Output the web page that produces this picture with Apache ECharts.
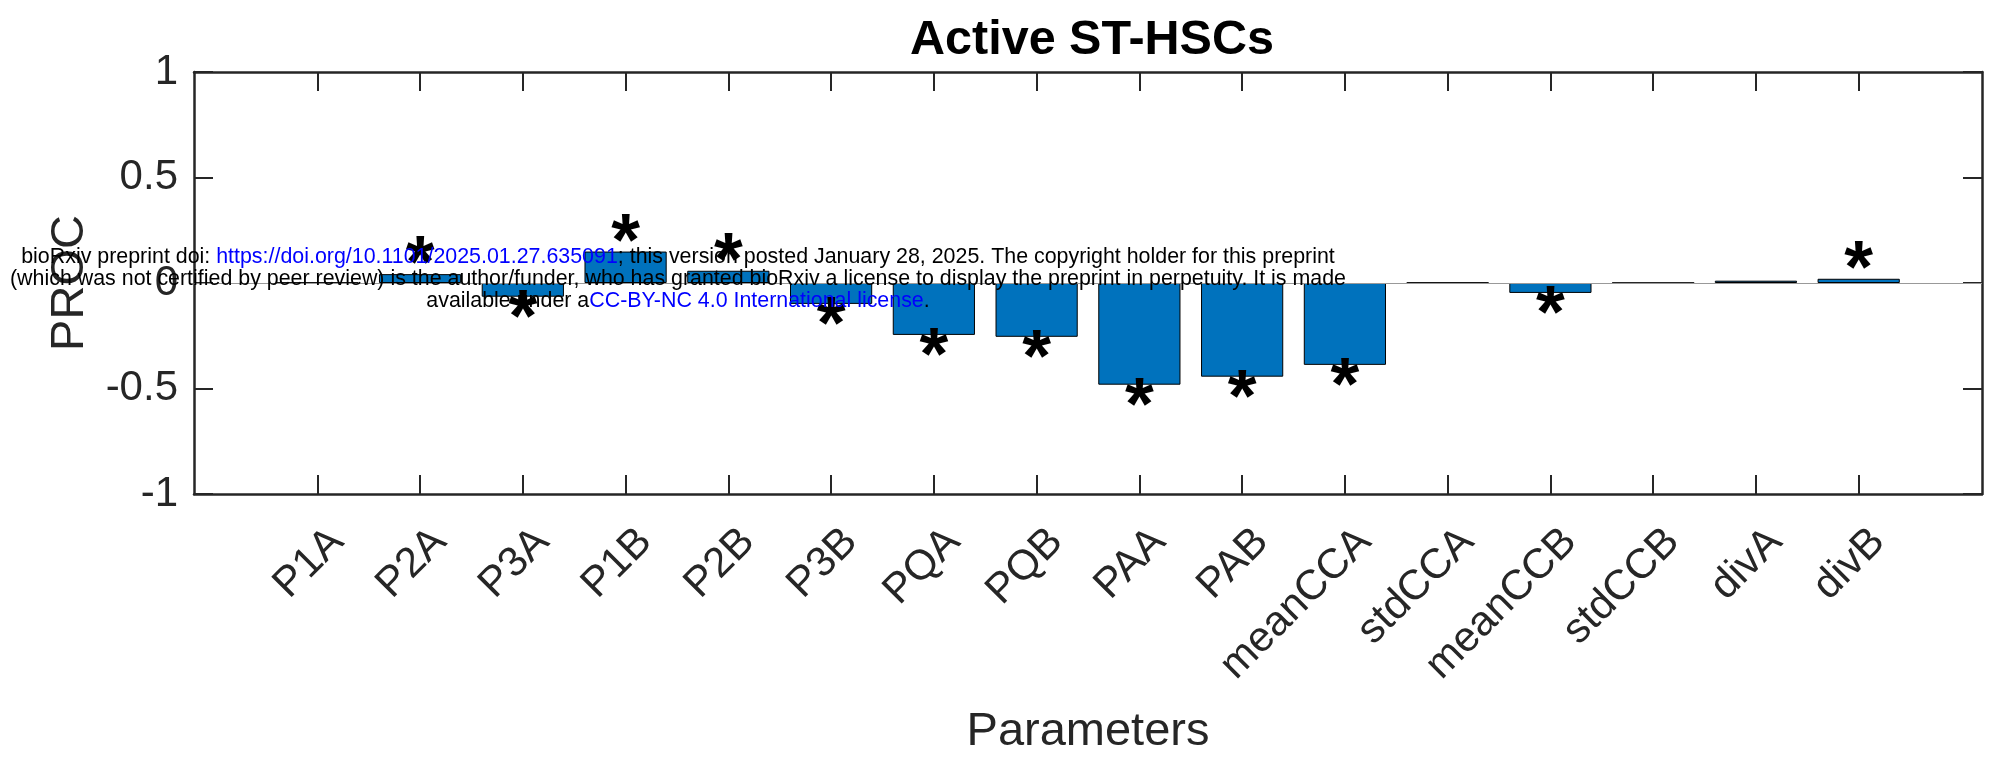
<!DOCTYPE html>
<html>
<head>
<meta charset="utf-8">
<script src="https://cdn.jsdelivr.net/npm/echarts@6/dist/echarts.min.js"></script>
<style>
html,body{margin:0;padding:0;background:#ffffff;}
#chart{width:1995px;height:761px;}
</style>
</head>
<body>
<div id="chart"></div>
<script>
// ---- data ----
const categories = ['P1A','P2A','P3A','P1B','P2B','P3B','PQA','PQB','PAA','PAB','meanCCA','stdCCA','meanCCB','stdCCB','divA','divB'];
const prccValues = [0.002, 0.042, -0.065, 0.149, 0.058, -0.099, -0.246, -0.255, -0.482, -0.444, -0.388, 0.002, -0.047, 0.001, 0.011, 0.020];
const significant = [false, true, true, true, true, true, true, true, true, true, true, false, true, false, false, true];
const yTickMin = -1, yTickMax = 1, yTickStep = 0.5;
const titleText = 'Active ST-HSCs';
const xName = 'Parameters';
const yName = 'PROC';
const wmLine1 = ['bioRxiv preprint doi: ', 'https://doi.org/10.1101/2025.01.27.635091', '; this version posted January 28, 2025. The copyright holder for this preprint'];
const wmLine2 = '(which was not certified by peer review) is the author/funder, who has granted bioRxiv a license to display the preprint in perpetuity. It is made';
const wmLine3 = ['available under a', 'CC-BY-NC 4.0 International license', '.'];

// ---- chart ----
const FONT = '"Liberation Sans", Arial, Helvetica, sans-serif';
const AX = '#262626';
const xPositions = categories.map((c, i) => i + 1);
const barData = categories.map((c, i) => [i + 1, prccValues[i]]);

const chart = echarts.init(document.getElementById('chart'), null, {renderer: 'canvas'});

const WM_SIZE = 21.4;
const wmRich = {
  k: {fill: '#000000', fontSize: WM_SIZE, fontFamily: FONT},
  b: {fill: '#0000ff', fontSize: WM_SIZE, fontFamily: FONT}
};
function wmText(y, text) {
  return {
    type: 'text', x: 678, y: y, z: 100, silent: true,
    style: {text: text, rich: wmRich, fontSize: WM_SIZE, fontFamily: FONT, fill: '#000', align: 'center', verticalAlign: 'middle'}
  };
}

const option = {
  animation: false,
  backgroundColor: '#ffffff',
  title: {
    text: titleText,
    left: 1087, top: 11.6, textAlign: 'center',
    textStyle: {fontSize: 48.5, fontWeight: 'bold', color: '#000000', fontFamily: FONT, lineHeight: 48}
  },
  grid: {left: 194, right: 13, top: 72, bottom: 263, containLabel: false},
  xAxis: [
    {
      type: 'value', position: 'bottom', min: -0.2, max: 17.2,
      axisLine: {show: true, onZero: false, lineStyle: {color: AX, width: 2.5}},
      axisTick: {show: true, inside: true, length: 19, customValues: xPositions, lineStyle: {color: AX, width: 2}},
      axisLabel: {
        show: true, customValues: xPositions, rotate: 45, margin: 61, padding: [0, -28, 0, 0],
        fontSize: 42, color: AX, fontFamily: FONT,
        formatter: v => categories[Math.round(v) - 1]
      },
      splitLine: {show: false},
      name: xName, nameLocation: 'middle', nameGap: 214,
      nameTextStyle: {fontSize: 47, color: AX, fontFamily: FONT, lineHeight: 48}
    },
    {
      type: 'value', position: 'top', min: -0.2, max: 17.2,
      axisLine: {show: true, onZero: false, lineStyle: {color: AX, width: 2.5}},
      axisTick: {show: true, inside: true, length: 19, customValues: xPositions, lineStyle: {color: AX, width: 2}},
      axisLabel: {show: false},
      splitLine: {show: false}
    }
  ],
  yAxis: [
    {
      type: 'value', position: 'left', min: yTickMin, max: yTickMax, interval: yTickStep,
      axisLine: {show: true, onZero: false, lineStyle: {color: AX, width: 2.5}},
      axisTick: {show: true, inside: true, length: 19, lineStyle: {color: AX, width: 2}},
      axisLabel: {show: true, margin: 16, fontSize: 42, color: AX, fontFamily: FONT, padding: [5, 0, 0, 0]},
      splitLine: {show: false},
      name: yName, nameLocation: 'middle', nameRotate: 90, nameGap: 100,
      nameTextStyle: {fontSize: 47, color: AX, fontFamily: FONT, lineHeight: 48}
    },
    {
      type: 'value', position: 'right', min: yTickMin, max: yTickMax, interval: yTickStep,
      axisLine: {show: true, onZero: false, lineStyle: {color: AX, width: 2.5}},
      axisTick: {show: true, inside: true, length: 19, lineStyle: {color: AX, width: 2}},
      axisLabel: {show: false},
      splitLine: {show: false}
    }
  ],
  series: [
    {
      type: 'bar', xAxisIndex: 0, yAxisIndex: 0,
      data: barData,
      barWidth: 82.2,
      itemStyle: {color: '#0072BD', borderColor: '#000000', borderWidth: 1},
      label: {
        show: true, position: 'outside', distance: 0,
        formatter: p => significant[p.dataIndex] ? '*' : '',
        fontSize: 74, fontWeight: 'bold', color: '#000000', fontFamily: FONT,
        lineHeight: 10, padding: [18.8, 0, 2.2, 0]
      },
      markLine: {
        silent: true, symbol: ['none', 'none'], label: {show: false},
        lineStyle: {color: '#999999', width: 1, type: 'solid'},
        data: [{yAxis: 0}]
      }
    }
  ],
  graphic: [
    wmText(257.1, '{k|' + wmLine1[0] + '}{b|' + wmLine1[1] + '}{k|' + wmLine1[2] + '}'),
    wmText(279.1, '{k|' + wmLine2 + '}'),
    wmText(301.1, '{k|' + wmLine3[0] + '}{b|' + wmLine3[1] + '}{k|' + wmLine3[2] + '}')
  ]
};
chart.setOption(option);
</script>
</body>
</html>
